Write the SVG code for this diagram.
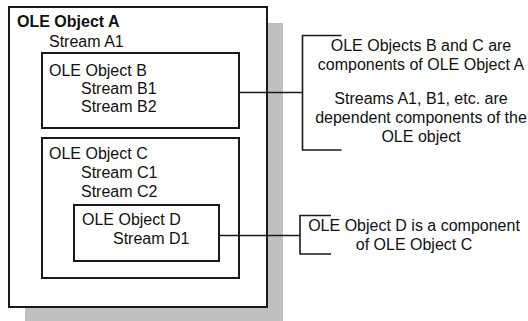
<svg xmlns="http://www.w3.org/2000/svg" width="528" height="321" viewBox="0 0 528 321">
<style>
.box{fill:#fff;stroke:#1a1a1a;stroke-width:2}
.t{font-family:"Liberation Sans",Arial,sans-serif;font-size:16px;fill:#111}
.b{font-weight:bold}
.c{text-anchor:middle}
.ln{fill:none;stroke:#1a1a1a;stroke-width:1.6}
</style>
<rect x="25" y="23" width="258" height="300" fill="#c0c0c0"/>
<g id="objA">
<rect class="box" x="9" y="7" width="258" height="300"/>
<text class="t b" x="17" y="27">OLE Object A</text>
<text class="t" x="49" y="47">Stream A1</text>
</g>
<g id="objB">
<rect class="box" x="42" y="53" width="197" height="75"/>
<text class="t" x="49" y="76">OLE Object B</text>
<text class="t" x="81" y="94">Stream B1</text>
<text class="t" x="81" y="112">Stream B2</text>
</g>
<g id="objC">
<rect class="box" x="42" y="138" width="197" height="140"/>
<text class="t" x="49" y="159">OLE Object C</text>
<text class="t" x="81" y="178">Stream C1</text>
<text class="t" x="81" y="197">Stream C2</text>
</g>
<g id="objD">
<rect class="box" x="74" y="205" width="145" height="56"/>
<text class="t" x="82" y="225">OLE Object D</text>
<text class="t" x="113" y="244">Stream D1</text>
</g>
<g id="connectors">
<path class="ln" d="M239 92.5H302.5M341.5 35.5H302.5V150H341.5"/>
<path class="ln" d="M219 235.5H300M331 215.5H300V254H331"/>
</g>
<g id="note1">
<text class="t c" x="421" y="51">OLE Objects B and C are</text>
<text class="t c" x="421" y="70">components of OLE Object A</text>
<text class="t c" x="421" y="104">Streams A1, B1, etc. are</text>
<text class="t c" x="421" y="123">dependent components of the</text>
<text class="t c" x="421" y="142">OLE object</text>
</g>
<g id="note2">
<text class="t c" x="414" y="231">OLE Object D is a component</text>
<text class="t c" x="414" y="250">of OLE Object C</text>
</g>
</svg>
